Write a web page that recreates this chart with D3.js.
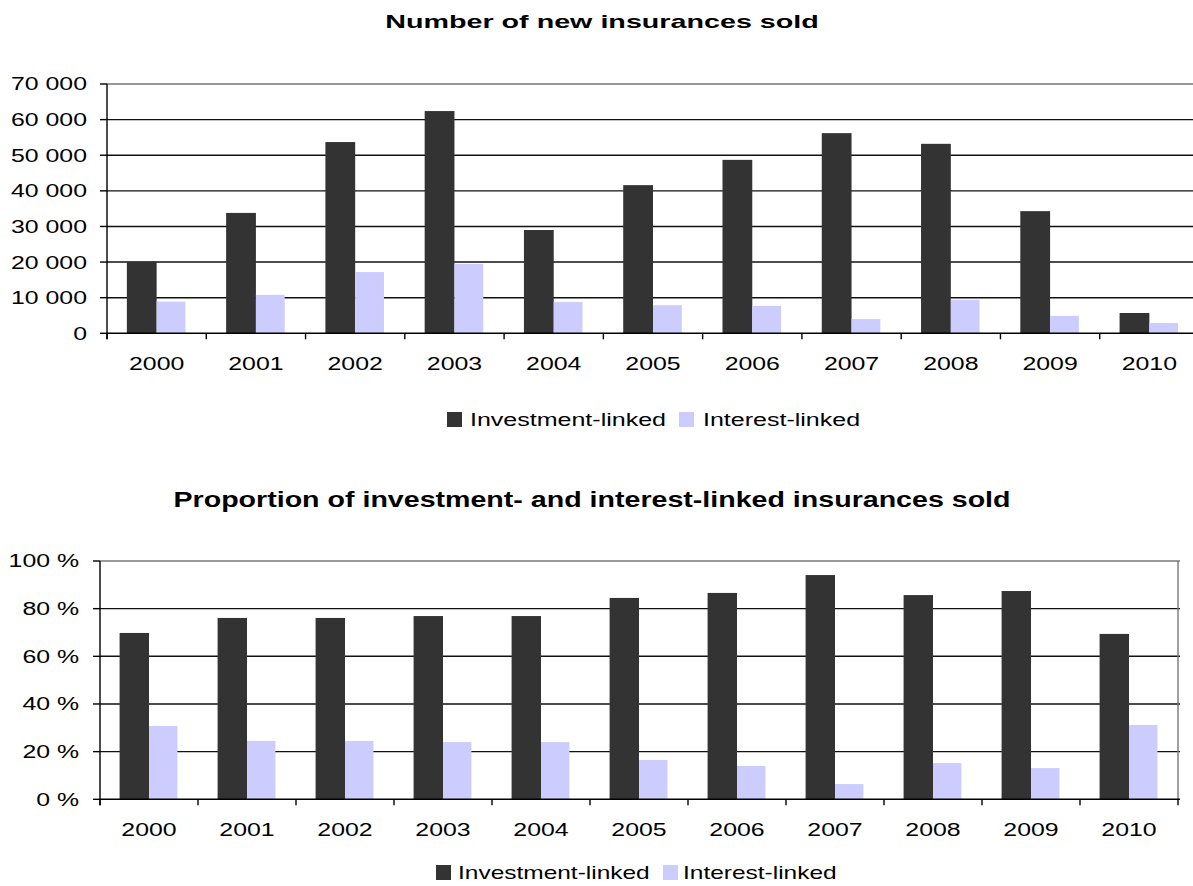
<!DOCTYPE html>
<html>
<head>
<meta charset="utf-8">
<script src="https://cdn.jsdelivr.net/npm/d3@7/dist/d3.min.js"></script>
<style>
  html, body { margin: 0; padding: 0; background: #fff; }
  svg { display: block; font-family: "Liberation Sans", Arial, sans-serif; }
</style>
</head>
<body>
<svg id="chart" width="1193" height="886"></svg>
<script>
// Years on the category axis
const years = ["2000", "2001", "2002", "2003", "2004", "2005", "2006", "2007", "2008", "2009", "2010"];

// Series names
const seriesNames = ["Investment-linked", "Interest-linked"];

// Number of new insurances sold
const investmentCount = [20100, 33800, 53700, 62400, 29000, 41600, 48700, 56200, 53200, 34300, 5700];
const interestCount   = [8900, 10800, 17200, 19500, 8800, 7900, 7700, 4000, 9400, 4900, 2900];

// Share of each type, in percent
const investmentShare = [69.8, 76.1, 76.1, 76.9, 76.9, 84.5, 86.6, 94.1, 85.7, 87.4, 69.4];
const interestShare   = [30.8, 24.5, 24.5, 24.0, 24.0, 16.5, 14.0, 6.4, 15.2, 13.1, 31.2];

// Value-axis ticks
const countTicks = [0, 10000, 20000, 30000, 40000, 50000, 60000, 70000];
const shareTicks = [0, 20, 40, 60, 80, 100];

const titles = ["Number of new insurances sold",
                "Proportion of investment- and interest-linked insurances sold"];

const colors = ["#333333", "#ccccff"];

const fmtLocale = d3.formatLocale({ decimal: ",", thousands: " ", grouping: [3], currency: ["", ""] });
const fmtCount = fmtLocale.format(",d");
const fmtShare = d => d + " %";

const svg = d3.select("#chart");

// Places a horizontally widened text at (x, y)
function wideText(g, x, y, str, opts) {
  const t = g.append("text")
    .attr("transform", `translate(${x},${y}) scale(${opts.sx},1)`)
    .attr("text-anchor", opts.anchor || "start")
    .attr("font-size", opts.size)
    .attr("font-weight", opts.weight || "normal")
    .attr("fill", "#000")
    .text(str);
  return t;
}

function drawChart(cfg) {
  const g = svg.append("g");
  const [x0, x1] = cfg.xRange;
  const [yTop, yBot] = cfg.yRange;

  const x = d3.scaleBand().domain(years).range([x0, x1])
    .paddingInner(0.41).paddingOuter(0.205);
  const xs = d3.scaleBand().domain(seriesNames).range([0, x.bandwidth()]);
  const y = d3.scaleLinear().domain(cfg.yDomain).range([yBot, yTop]);

  // Title
  wideText(g, cfg.titleX, cfg.titleY, cfg.title,
    { sx: cfg.titleSx, size: cfg.titleSize, weight: "bold", anchor: "middle" });

  // Gridlines
  g.append("g").selectAll("line").data(cfg.ticks.slice(1)).join("line")
    .attr("x1", x0).attr("x2", x1 + 2)
    .attr("y1", d => y(d)).attr("y2", d => y(d))
    .attr("stroke", (d, i, n) => i === n.length - 1 ? "#777" : "#111")
    .attr("stroke-width", 1.4);

  // Bars
  const rows = years.map((yr, i) => ({ yr, vals: cfg.series.map(s => s[i]) }));
  g.append("g").selectAll("g").data(rows).join("g")
    .attr("transform", d => `translate(${x(d.yr)},0)`)
    .selectAll("rect").data(d => d.vals.map((v, k) => ({ v, k }))).join("rect")
      .attr("x", d => xs(seriesNames[d.k]) - (d.k === 0 ? 0.5 : 0))
      .attr("width", d => xs.bandwidth() + (d.k === 0 ? 0.5 : -0.5))
      .attr("y", d => y(d.v))
      .attr("height", d => y(0) - y(d.v))
      .attr("fill", d => colors[d.k]);

  // Right border of plot area
  if (cfg.rightBorder) {
    g.append("line").attr("x1", x1).attr("x2", x1).attr("y1", yTop).attr("y2", yBot)
      .attr("stroke", "#777").attr("stroke-width", 1.4);
  }

  // Value axis
  g.append("line").attr("x1", x0).attr("x2", x0).attr("y1", yTop).attr("y2", yBot + 6)
    .attr("stroke", "#000").attr("stroke-width", 1.4);
  g.append("g").selectAll("line").data(cfg.ticks).join("line")
    .attr("x1", x0 - 7).attr("x2", x0)
    .attr("y1", d => y(d)).attr("y2", d => y(d))
    .attr("stroke", "#000").attr("stroke-width", 1.4);
  const yl = g.append("g");
  cfg.ticks.forEach(t => {
    wideText(yl, cfg.yLabelX, y(t) + cfg.labelSize * 0.36, cfg.fmt(t),
      { sx: cfg.labelSx, size: cfg.labelSize, anchor: "end" });
  });

  // Category axis
  g.append("line").attr("x1", x0).attr("x2", x1 + 2).attr("y1", yBot).attr("y2", yBot)
    .attr("stroke", "#000").attr("stroke-width", 1.6);
  const step = x.step();
  g.append("g").selectAll("line").data(d3.range(years.length + 1)).join("line")
    .attr("x1", i => x0 + i * step).attr("x2", i => x0 + i * step)
    .attr("y1", yBot).attr("y2", yBot + 6)
    .attr("stroke", "#000").attr("stroke-width", 1.4);
  const xl = g.append("g");
  years.forEach(yr => {
    wideText(xl, x(yr) + x.bandwidth() / 2, cfg.xLabelY, yr,
      { sx: cfg.labelSx, size: cfg.labelSize, anchor: "middle" });
  });

  // Legend
  const lg = g.append("g");
  cfg.legend.forEach((item, k) => {
    lg.append("rect").attr("x", item.sq).attr("y", cfg.legendY - 12)
      .attr("width", 15).attr("height", 15).attr("fill", colors[k]);
    wideText(lg, item.tx, cfg.legendY + 2, seriesNames[k],
      { sx: cfg.legendSx, size: cfg.labelSize });
  });
}

drawChart({
  title: titles[0], titleX: 602, titleY: 28, titleSx: 1.51, titleSize: 19,
  xRange: [107, 1199], yRange: [84, 333.3],
  yDomain: [0, 70000], ticks: countTicks, fmt: fmtCount,
  series: [investmentCount, interestCount],
  yLabelX: 87, labelSize: 18, labelSx: 1.38, xLabelY: 370,
  legendY: 424, legendSx: 1.39,
  legend: [{ sq: 447, tx: 470 }, { sq: 679, tx: 703 }],
  rightBorder: false
});

drawChart({
  title: titles[1], titleX: 592, titleY: 507, titleSx: 1.3, titleSize: 22,
  xRange: [100, 1178], yRange: [561, 799.3],
  yDomain: [0, 100], ticks: shareTicks, fmt: fmtShare,
  series: [investmentShare, interestShare],
  yLabelX: 79, labelSize: 18, labelSx: 1.38, xLabelY: 836,
  legendY: 877, legendSx: 1.36,
  legend: [{ sq: 436, tx: 458 }, { sq: 663, tx: 683 }],
  rightBorder: true
});
</script>
</body>
</html>
